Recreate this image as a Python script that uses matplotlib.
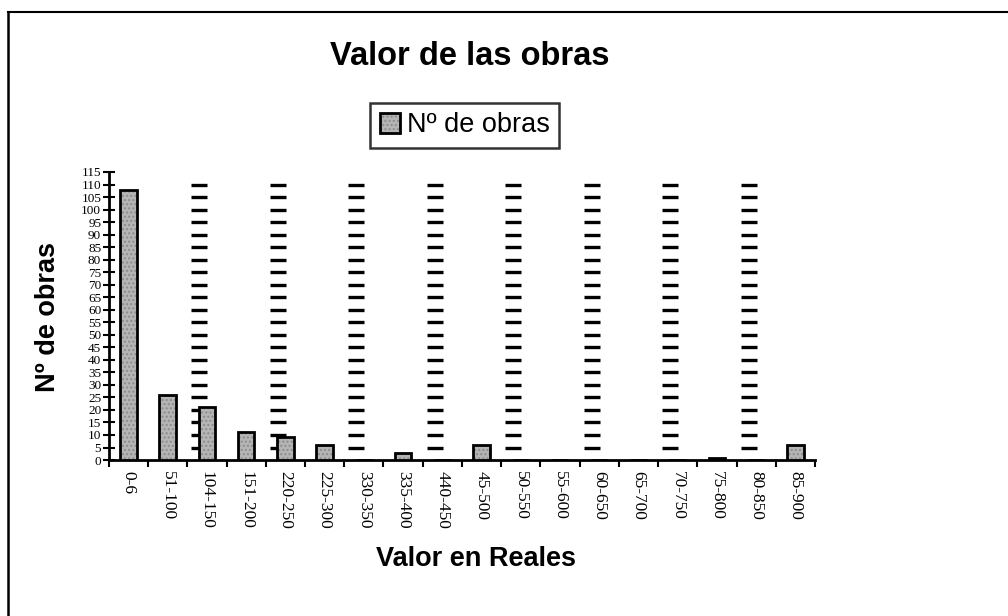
import matplotlib
matplotlib.use("Agg")
import matplotlib.pyplot as plt
import numpy as np
from matplotlib.lines import Line2D

categories = ["0-6", "51-100", "104-150", "151-200", "220-250", "225-300", "330-350",
              "335-400", "440-450", "45-500", "50-550", "55-600", "60-650", "65-700",
              "70-750", "75-800", "80-850", "85-900"]
n_obras = [108, 26, 21, 11, 9, 6, 0, 3, 0, 6, 0, 0, 0, 0, 0, 1, 0, 6]
y_ticks = list(range(0, 120, 5))
dash_levels = list(range(5, 115, 5))

fig = plt.figure(figsize=(10.08, 6.16), dpi=100)
fig.patch.set_facecolor("white")
# scanned page frame: left and top edges
fig.add_artist(Line2D([0.008, 0.008], [0.0, 0.981], transform=fig.transFigure,
                      color="black", linewidth=1.8))
fig.add_artist(Line2D([0.008, 1.0], [0.981, 0.981], transform=fig.transFigure,
                      color="black", linewidth=1.5))

ax = fig.add_axes([0.108, 0.2532, 0.7005, 0.4676])
x = np.arange(len(categories))
bars = ax.bar(x, n_obras, width=0.42, color="#b5b5b5", edgecolor="black",
              linewidth=2.0, hatch="....", label="Nº de obras", zorder=3)
for b in bars:
    b._hatch_color = (0.55, 0.55, 0.55, 1)

# dashed ghost gridline columns
for xi in x[2::2]:
    ax.plot([xi - 0.19] * len(dash_levels), dash_levels, linestyle="none",
            marker="_", markersize=11, markeredgewidth=2.4, color="black", zorder=2)

ax.set_xlim(-0.5, len(categories) - 0.5)
ax.set_ylim(0, 115)
ax.set_yticks(y_ticks)
ax.set_yticklabels([str(v) for v in y_ticks], fontsize=9.5, family="Liberation Serif")
ax.tick_params(axis="y", direction="inout", length=9, width=1.5, pad=1)
ax.set_xticks(x)
ax.set_xticklabels(categories, rotation=-90, fontsize=12.5, family="Liberation Serif", va="top")
ax.tick_params(axis="x", which="major", length=0, pad=8)
ax.set_xticks(np.arange(-0.5, len(categories), 1), minor=True)
ax.tick_params(axis="x", which="minor", direction="out", length=5, width=1.5)
for s in ["top", "right"]:
    ax.spines[s].set_visible(False)
for s in ["left", "bottom"]:
    ax.spines[s].set_linewidth(2)
ax.set_facecolor("white")

ax.set_ylabel("Nº de obras", fontsize=19.5, fontweight="bold", family="Liberation Sans",
              va="center")
ax.yaxis.set_label_coords(-0.0855, 0.498)
ax.set_xlabel("Valor en Reales", fontsize=19.5, fontweight="bold", family="Liberation Sans",
              va="center")
ax.xaxis.set_label_coords(0.52, -0.3425)

fig.text(0.4663, 0.909, "Valor de las obras", ha="center", va="center", fontsize=23.5,
         fontweight="bold", family="Liberation Sans")

leg = fig.legend(handles=[bars], labels=["Nº de obras"], loc="center",
                 bbox_to_anchor=(0.4608, 0.7963), frameon=True, fancybox=False,
                 prop={"family": "Liberation Sans", "size": 19.5},
                 handlelength=0.75, handleheight=0.75, handletextpad=0.25,
                 borderpad=0.35, shadow=False)
leg.get_frame().set_edgecolor("black")
leg.get_frame().set_linewidth(1.8)

fig.savefig("out.png", dpi=100)
